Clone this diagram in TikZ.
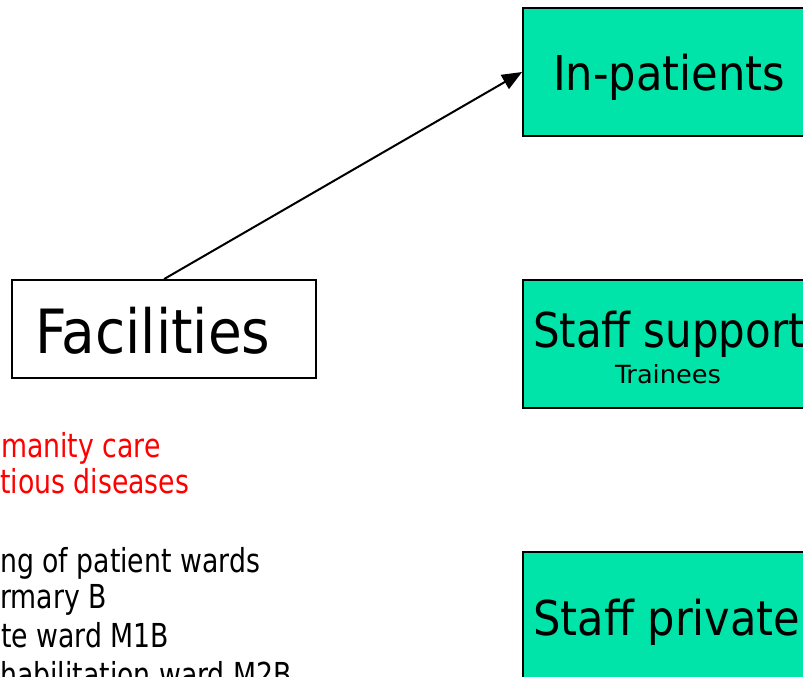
\documentclass[tikz,border=0pt]{standalone}
\usepackage{fontspec}
\setmainfont{DejaVu Sans Condensed}
\newfontfamily\listfont{DejaVu Sans Condensed}[FakeStretch=0.9]
\newfontfamily\widefont{DejaVu Sans Condensed}[FakeStretch=1.14]
\newfontfamily\supfont{DejaVu Sans Condensed}[FakeStretch=0.97]
\usetikzlibrary{arrows.meta}
\definecolor{boxgreen}{RGB}{0,228,170}
\tikzset{
  greenbox/.style={draw=black, line width=1.8pt, fill=boxgreen, minimum width=290pt, minimum height=128pt, inner sep=0pt},
  whitebox/.style={draw=black, line width=1.8pt, fill=white, minimum width=304pt, minimum height=98pt, inner sep=0pt},
  bigtxt/.style={anchor=base, inner sep=0pt, font=\fontsize{48pt}{56pt}\selectfont},
  smalltxt/.style={anchor=base, inner sep=0pt, font=\widefont\fontsize{25pt}{28pt}\selectfont},
  listtxt/.style={anchor=base west, inner sep=0pt, font=\listfont\fontsize{33pt}{38pt}\selectfont},
  conn/.style={line width=2pt, -{Triangle[length=20pt,width=16pt]}}
}
\begin{document}
\begin{tikzpicture}[x=1pt,y=-1pt]
\useasboundingbox (0,0) rectangle (803,677);
\clip (0,0) rectangle (803,677);
% boxes
\node[greenbox] (inp) at (668,72) {};
\node[greenbox] (sup) at (668,344) {};
\node[greenbox] (prv) at (668,616) {};
\node[whitebox] (fac) at (164,329) {};
% box texts
\node[bigtxt] (tinp) at (669,90) {In-patients};
\node[bigtxt, font=\supfont\fontsize{48pt}{56pt}\selectfont] (tsup) at (669,347) {Staff support};
\node[smalltxt] (ttr) at (668,383) {Trainees};
\node[bigtxt] (tprv) at (667,635) {Staff private};
\node[anchor=base, inner sep=0pt, font=\fontsize{61pt}{70pt}\selectfont] (tfac) at (153,353) {Facilities};
% list texts
\node[listtxt, text=red] (l1) at (1,457) {manity care};
\node[listtxt, text=red] (l2) at (0,493) {tious diseases};
\node[listtxt] (l3) at (0,572) {ng of patient wards};
\node[listtxt] (l4) at (0,608) {rmary B};
\node[listtxt] (l5) at (1,647) {te ward M1B};
\node[listtxt] (l6) at (0,686) {habilitation ward M2B};
% connector
\draw[conn] (fac.north) -- (inp.west);
\end{tikzpicture}
\end{document}
